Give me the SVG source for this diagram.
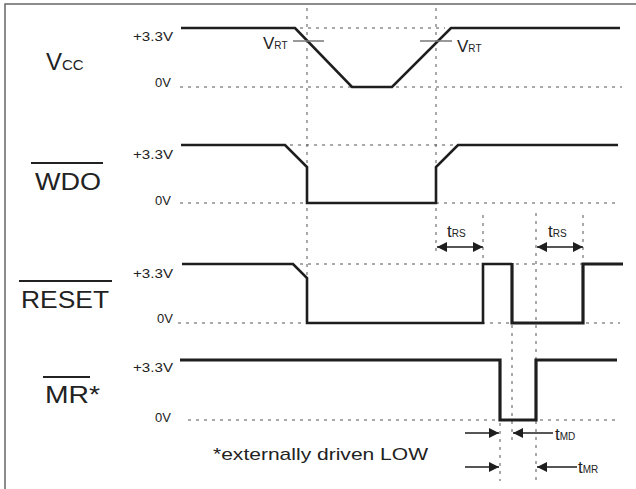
<svg xmlns="http://www.w3.org/2000/svg" width="636" height="489" viewBox="0 0 636 489">
<style>
.sig{fill:none;stroke:#1e1e1e;stroke-width:2.6;stroke-linejoin:miter}
.sig2{fill:none;stroke:#1e1e1e;stroke-width:3.2}
.grid{fill:none;stroke:#555;stroke-width:1;stroke-dasharray:3 5}
.vrt{stroke:#777;stroke-width:1.5}
.lvl{font-family:"Liberation Sans",Arial,sans-serif;font-size:13px;fill:#222;text-anchor:end}
.big{font-family:"Liberation Sans",Arial,sans-serif;font-size:24px;fill:#222}
.t{font-family:"Liberation Sans",Arial,sans-serif;font-size:17px;fill:#222}
.s{font-size:10px}
.ar{stroke:#1e1e1e;stroke-width:1.3;fill:none}
</style>
<defs>
<marker id="ah" viewBox="0 0 10 10" refX="10" refY="5" markerWidth="10" markerHeight="10" markerUnits="userSpaceOnUse" orient="auto-start-reverse">
<path d="M0,0 L10,5 L0,10 z" fill="#1e1e1e"/>
</marker>
</defs>
<rect width="636" height="489" fill="#fff"/>
<path d="M5,489 V4 H636" fill="none" stroke="#666" stroke-width="1.5"/>

<g id="grid">
<line class="grid" x1="307" y1="8" x2="307" y2="323"/>
<line class="grid" x1="436" y1="8" x2="436" y2="254"/>
<line class="grid" x1="483" y1="215" x2="483" y2="264"/>
<line class="grid" x1="536" y1="213" x2="536" y2="481"/>
<line class="grid" x1="583" y1="215" x2="583" y2="264"/>
<line class="grid" x1="512" y1="325" x2="512" y2="443"/>
<line class="grid" x1="500" y1="423" x2="500" y2="481"/>
<line class="grid" x1="300" y1="28" x2="445" y2="28"/>
<line class="grid" x1="180" y1="87" x2="622" y2="87"/>
<line class="grid" x1="290" y1="145" x2="458" y2="145"/>
<line class="grid" x1="180" y1="203" x2="620" y2="203"/>
<line class="grid" x1="300" y1="264" x2="620" y2="264"/>
<line class="grid" x1="178" y1="323" x2="620" y2="323"/>
<line class="grid" x1="188" y1="420" x2="620" y2="420"/>
</g>

<g id="vcc">
<text class="big" x="46" y="70">V<tspan font-size="15">CC</tspan></text>
<text class="lvl" x="173" y="41" textLength="40" lengthAdjust="spacingAndGlyphs">+3.3V</text>
<text class="lvl" x="171" y="87">0V</text>
<polyline class="sig" points="181,28 295,28 352,87 392,87 451,28 620,28"/>
<line class="vrt" x1="293" y1="41" x2="324" y2="41"/>
<line class="vrt" x1="420" y1="41" x2="452" y2="41"/>
<text class="t" x="263" y="49" font-size="15">V<tspan class="s">RT</tspan></text>
<text class="t" x="457" y="52" font-size="15">V<tspan class="s">RT</tspan></text>
</g>

<g id="wdo">
<text class="big" x="35" y="190" textLength="66" lengthAdjust="spacingAndGlyphs">WDO</text>
<line x1="31" y1="163" x2="103" y2="163" stroke="#222" stroke-width="2.2"/>
<text class="lvl" x="173" y="159" textLength="40" lengthAdjust="spacingAndGlyphs">+3.3V</text>
<text class="lvl" x="171" y="205">0V</text>
<polyline class="sig" points="181,145 285,145 307,167 307,203 436,203 436,167 458,145 618,145"/>
</g>

<g id="reset">
<text class="big" x="21" y="308" textLength="88" lengthAdjust="spacingAndGlyphs">RESET</text>
<line x1="19" y1="281" x2="112" y2="281" stroke="#222" stroke-width="1.8"/>
<text class="lvl" x="173" y="278" textLength="40" lengthAdjust="spacingAndGlyphs">+3.3V</text>
<text class="lvl" x="173" y="323">0V</text>
<polyline class="sig" points="182,264 293,264 307,278 307,323 483,323 483,264 512,264"/>
<polyline class="sig2" points="512,263 512,323 583,323 583,264 623,264"/>
<line class="ar" x1="437" y1="247" x2="483" y2="247" marker-start="url(#ah)" marker-end="url(#ah)"/>
<line class="ar" x1="537" y1="247" x2="583" y2="247" marker-start="url(#ah)" marker-end="url(#ah)"/>
<text class="t" x="447" y="237">t<tspan class="s">RS</tspan></text>
<text class="t" x="548" y="237">t<tspan class="s">RS</tspan></text>
</g>

<g id="mr">
<text class="big" x="45" y="403" textLength="55" lengthAdjust="spacingAndGlyphs">MR*</text>
<line x1="43" y1="377" x2="90" y2="377" stroke="#222" stroke-width="1.8"/>
<text class="lvl" x="173" y="372" textLength="40" lengthAdjust="spacingAndGlyphs">+3.3V</text>
<text class="lvl" x="171" y="422">0V</text>
<polyline class="sig2" points="180,360 500,360 500,420 536,420 536,360 617,360"/>
<text class="t" x="213" y="460" font-size="18" textLength="215" lengthAdjust="spacingAndGlyphs">*externally driven LOW</text>
</g>

<g id="connectors">
<line class="ar" x1="465" y1="433" x2="499" y2="433" marker-end="url(#ah)"/>
<line class="ar" x1="553" y1="433" x2="513" y2="433" marker-end="url(#ah)"/>
<line class="ar" x1="465" y1="467" x2="499" y2="467" marker-end="url(#ah)"/>
<line class="ar" x1="577" y1="467" x2="537" y2="467" marker-end="url(#ah)"/>
<text class="t" x="555" y="440">t<tspan class="s">MD</tspan></text>
<text class="t" x="578" y="473">t<tspan class="s">MR</tspan></text>
</g>
</svg>
